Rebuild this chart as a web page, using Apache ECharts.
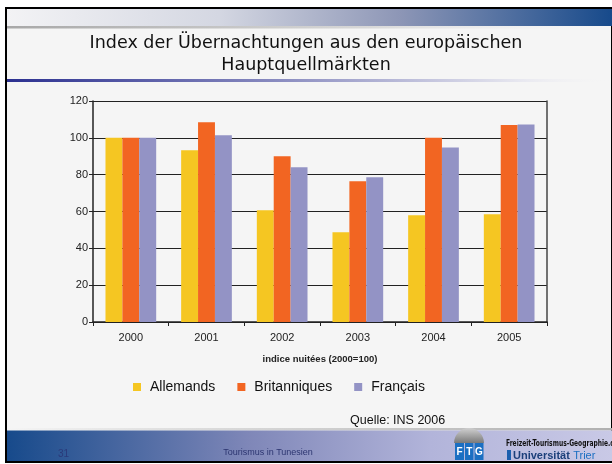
<!DOCTYPE html>
<html><head><meta charset="utf-8">
<script src="https://cdn.jsdelivr.net/npm/echarts@6/dist/echarts.min.js"></script>
<style>html,body{margin:0;padding:0;background:#fff}#c{width:612px;height:464px}</style>
</head><body><div id="c"></div>
<script>
const categories = ['2000','2001','2002','2003','2004','2005'];
const allemands = [100, 93.2, 60.7, 48.8, 58, 58.5];
const britanniques = [100, 108.4, 90, 76.4, 100, 107];
const francais = [100, 101.4, 84, 78.6, 94.8, 107.3];
const seriesNames = ['Allemands','Britanniques','Français'];
const yTicks = {min:0, max:120, interval:20};

const chart = echarts.init(document.getElementById('c'));
const F = 'Liberation Sans, Arial, sans-serif';
const lg = (stops, x2=1, y2=0) => ({type:'linear', x:0, y:0, x2, y2, colorStops: stops.map(s=>({offset:s[0], color:s[1]}))});

chart.setOption({
  backgroundColor:'#ffffff',
  animation:false,
  title:{
    text:'Index der Übernachtungen aus den europäischen\nHauptquellmärkten',
    left:'center', top:27,
    textStyle:{fontFamily:'DejaVu Sans, sans-serif', fontSize:17.5, fontWeight:'normal', color:'#111', lineHeight:22}
  },
  legend:{
    data:seriesNames, left:128, top:375, itemWidth:8, itemHeight:8, itemGap:22,
    icon:'rect',
    textStyle:{fontFamily:F, fontSize:14, color:'#111', padding:[0,0,0,4]}
  },
  grid:{left:93, right:65, top:101, bottom:142, containLabel:false},
  xAxis:{
    type:'category', data:categories,
    axisLine:{lineStyle:{color:'#222', width:1.5}},
    axisTick:{show:true, length:4, lineStyle:{color:'#222'}},
    axisLabel:{fontFamily:F, fontSize:11, color:'#222', margin:10},
    name:'indice nuitées (2000=100)', nameLocation:'middle', nameGap:32,
    nameTextStyle:{fontFamily:F, fontSize:9.5, fontWeight:'bold', color:'#222'}
  },
  yAxis:[{
    type:'value', min:yTicks.min, max:yTicks.max, interval:yTicks.interval,
    axisLine:{show:true, lineStyle:{color:'#222', width:1.5}},
    axisTick:{show:true, length:4, lineStyle:{color:'#222'}},
    axisLabel:{fontFamily:F, fontSize:11, color:'#222', margin:5},
    splitLine:{show:true, lineStyle:{color:'#222', width:1}}
  },{
    type:'value', min:yTicks.min, max:yTicks.max, interval:yTicks.interval, position:'right',
    axisLine:{show:true, lineStyle:{color:'#444', width:1.5}},
    axisTick:{show:false}, axisLabel:{show:false}, splitLine:{show:false}
  }],
  series:[
    {name:seriesNames[0], type:'bar', data:allemands, itemStyle:{color:'#F5C622'}, barGap:'0%', barCategoryGap:'33%'},
    {name:seriesNames[1], type:'bar', data:britanniques, itemStyle:{color:'#F26522'}, barGap:'0%', barCategoryGap:'33%'},
    {name:seriesNames[2], type:'bar', data:francais, itemStyle:{color:'#9393C5'}, barGap:'0%', barCategoryGap:'33%'}
  ],
  graphic:[
    {type:'rect', z:-10, silent:true, shape:{x:6, y:8, width:606, height:454}, style:{fill:'#f5f5f5', stroke:'#000', lineWidth:2}},
    {type:'rect', z:-9, silent:true, shape:{x:7, y:9, width:605, height:17},
      style:{fill:lg([[0,'#f3f3f5'],[0.35,'#d4d7e2'],[0.65,'#8d96b6'],[1,'#174a8b']])}},
    {type:'rect', z:-9, silent:true, shape:{x:7, y:26, width:605, height:2.5},
      style:{fill:lg([[0,'#a8a8a8'],[0.6,'#d8d8d8'],[1,'rgba(245,245,245,0)']])}},
    {type:'rect', z:-9, silent:true, shape:{x:7, y:79, width:605, height:3},
      style:{fill:lg([[0,'#2b3090'],[0.45,'#8a8cc0'],[0.85,'#e8e8f0'],[1,'rgba(245,245,245,0)']])}},
    {type:'rect', z:-9, silent:true, shape:{x:7, y:428, width:605, height:2.5},
      style:{fill:lg([[0,'rgba(200,200,200,0)'],[0.5,'#d0d0d0'],[1,'#b0b0b0']])}},
    {type:'rect', z:-9, silent:true, shape:{x:7, y:430.5, width:605, height:30.5},
      style:{fill:lg([[0,'#174a8b'],[0.4,'#7f87b8'],[0.7,'#b2b4da'],[1,'#c9c9e6']])}},
    {type:'text', silent:true, style:{text:'Quelle: INS 2006', x:350, y:421, verticalAlign:'middle', font:'12.5px '+F, fill:'#111'}},
    {type:'text', silent:true, style:{text:'31', x:58, y:454, verticalAlign:'middle', font:'10px '+F, fill:'#2a3a7a'}},
    {type:'text', silent:true, style:{text:'Tourismus in Tunesien', x:268, y:453, align:'center', verticalAlign:'middle', font:'9px '+F, fill:'#2c3570'}},
    // FTG logo
    {type:'sector', silent:true, shape:{cx:469, cy:443, r0:0, r:15, startAngle:Math.PI, endAngle:2*Math.PI}, style:{fill:lg([[0,'#d0d0d0'],[1,'#7a7a7a']],0,1)}},
    {type:'rect', silent:true, shape:{x:455, y:443, width:9, height:17}, style:{fill:'#1b6fc2'}},
    {type:'rect', silent:true, shape:{x:465, y:443, width:8.5, height:17}, style:{fill:'#1b6fc2'}},
    {type:'rect', silent:true, shape:{x:474.5, y:443, width:9, height:17}, style:{fill:'#1b6fc2'}},
    {type:'text', silent:true, style:{text:'F', x:459.5, y:452, align:'center', verticalAlign:'middle', font:'bold 10px '+F, fill:'#fff'}},
    {type:'text', silent:true, style:{text:'T', x:469.2, y:452, align:'center', verticalAlign:'middle', font:'bold 10px '+F, fill:'#fff'}},
    {type:'text', silent:true, style:{text:'G', x:479, y:452, align:'center', verticalAlign:'middle', font:'bold 10px '+F, fill:'#fff'}},
    {type:'text', silent:true, x:506, y:444, scaleX:0.78, style:{text:'Freizeit-Tourismus-Geographie.de', x:0, y:0, verticalAlign:'middle', font:'bold 8.5px "DejaVu Sans Condensed", '+F, fill:'#111'}},
    {type:'rect', silent:true, shape:{x:507, y:450, width:4, height:10}, style:{fill:'#1b5fae'}},
    {type:'text', silent:true, style:{rich:{a:{font:'bold 11px '+F, fill:'#1b3f7a'}, b:{font:'11px '+F, fill:'#1b6fc2'}}, text:'{a|Universität} {b|Trier}', x:513, y:456, verticalAlign:'middle'}}
  ]
});
</script></body></html>
